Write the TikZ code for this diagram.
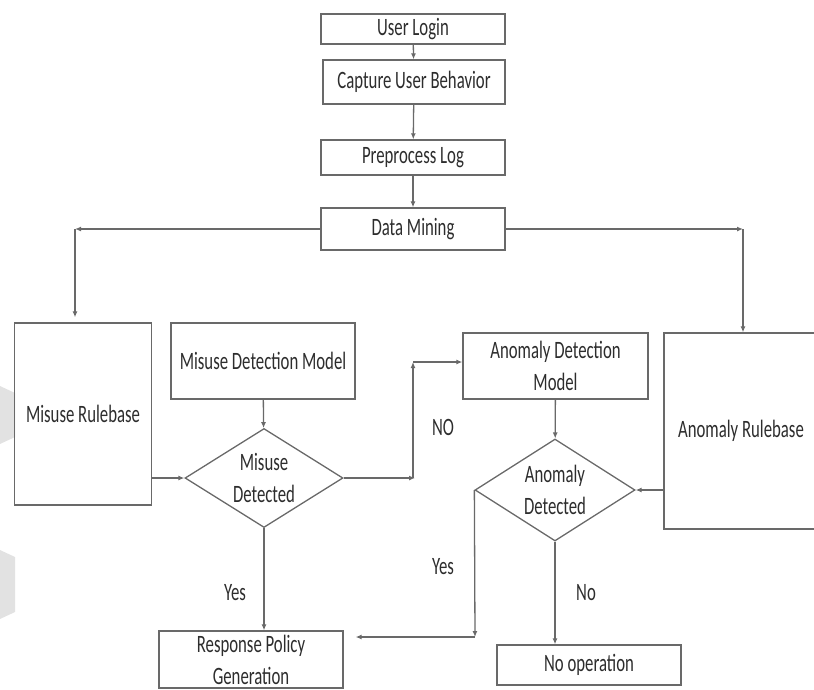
\documentclass[tikz,border=0pt]{standalone}
\usepackage{fontspec}
\setmainfont{Carlito}[FakeStretch=0.67]
\definecolor{flline}{RGB}{105,105,105}
\definecolor{fltext}{RGB}{45,45,45}
\definecolor{flmark}{RGB}{226,226,226}
\usetikzlibrary{arrows.meta,shapes.geometric,calc}

\begin{document}
\begin{tikzpicture}[x=1pt,y=-1pt,
  box/.style={draw=flline, line width=1.3pt, inner sep=0pt, align=center,
    text=fltext, font=\fontsize{25}{32}\selectfont},
  decision/.style={diamond, draw=flline, line width=1.3pt, inner sep=0pt,
    aspect=1.6, align=center, text=fltext, font=\fontsize{25}{32}\selectfont},
  flow/.style={draw=flline, line width=1.3pt, -{Latex[length=6pt,width=5pt]}},
  tag/.style={text=fltext, font=\fontsize{25}{32}\selectfont}]
  \useasboundingbox (0,0) rectangle (814,689);

  %% faint marks at the left edge
  \fill[flmark] (0,386) -- (15,393) -- (15,437) -- (0,444) -- cycle;
  \fill[flmark] (0,550) -- (15,557) -- (15,612) -- (0,619) -- cycle;

  %% Top chain
  \node[box, minimum width=184, minimum height=30] (login)   at (413,29)    {User Login};
  \node[box, minimum width=182, minimum height=44] (capture) at (414,82)    {Capture User Behavior};
  \node[box, minimum width=184, minimum height=35] (prep)    at (413,157.5) {Preprocess Log};
  \node[box, minimum width=184, minimum height=42] (mining)  at (413,229)   {Data Mining};

  %% Misuse branch
  \node[box, minimum width=137, minimum height=182] (misrule) at (83,414)  {Misuse Rulebase};
  \node[box, minimum width=184, minimum height=76]  (mismodel) at (263,361) {Misuse Detection Model};
  \node[decision, minimum width=158, minimum height=99] (misdet) at (264,478) {Misuse\\Detected};

  %% Anomaly branch
  \node[box, minimum width=185, minimum height=66]  (anomodel) at (555.5,366) {Anomaly Detection\\Model};
  \node[decision, minimum width=160, minimum height=102] (anodet) at (555,490) {Anomaly\\Detected};
  \node[box, minimum width=154, minimum height=196] (anorule) at (741,431) {Anomaly Rulebase};

  %% Outcomes
  \node[box, minimum width=184, minimum height=57] (response) at (251,659.5) {Response Policy\\Generation};
  \node[box, minimum width=184, minimum height=40] (noop)     at (589,665)   {No operation};

  %% Labels
  \node[tag] (lblno)   at (443,427) {NO};
  \node[tag] (lblyesA) at (235,593) {Yes};
  \node[tag] (lblyesB) at (443,567) {Yes};
  \node[tag] (lblnoB)  at (586,593) {No};

  %% Corner points
  \coordinate (mineL) at (75,229);
  \coordinate (mineR) at (743,229);
  \coordinate (noEnd) at (415,478);
  \coordinate (noBot) at (413,478);
  \coordinate (noTop) at (413,362);
  \coordinate (yesBot) at (475,637);

  %% Connectors
  \draw[flow] (login) -- (capture);
  \draw[flow] (capture) -- (prep);
  \draw[flow] (prep) -- (mining);
  \draw[flow] (mining.west) -- (mineL);
  \draw[flow, shorten >=5pt] (mineL) -- (mineL |- misrule.north);
  \draw[flow] (mining.east) -- (mineR);
  \draw[flow] (mineR) -- (mineR |- anorule.north);

  \draw[flow] (misrule.east |- misdet) -- (misdet.west);
  \draw[flow] (mismodel) -- (misdet);
  \draw[flow] (misdet.east) -- (noEnd);
  \draw[flow] (noBot) -- (noTop);
  \draw[flow] (noTop) -- (noTop -| anomodel.west);
  \draw[flow] (misdet.south) -- (misdet.south |- response.north);

  \draw[flow] (anomodel) -- (anodet);
  \draw[flow] (anorule.west |- anodet) -- (anodet.east);
  \draw[flow] (anodet.west) -- (yesBot);
  \draw[flow] (yesBot) -- ($(response.east |- yesBot)+(12,0)$);
  \draw[flow] (anodet.south) -- (anodet.south |- noop.north);
\end{tikzpicture}
\end{document}
